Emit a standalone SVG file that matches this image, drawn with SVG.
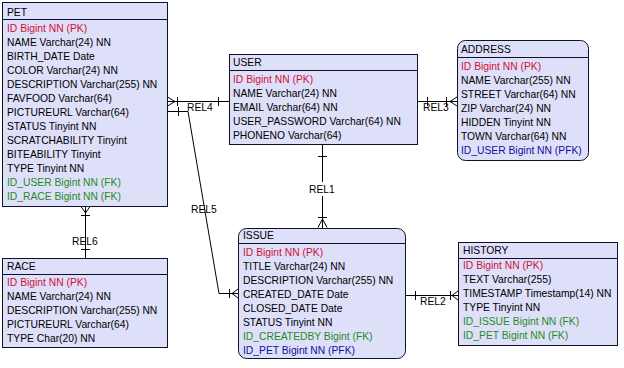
<svg xmlns="http://www.w3.org/2000/svg" width="624" height="368" viewBox="0 0 624 368">
<style>
  text { font-family: "Liberation Sans", Arial, sans-serif; font-size: 10.3px; fill: #000; }
  .box { fill: #DEDFF8; stroke: #10102A; stroke-width: 1; }
  .sep { stroke: #10102A; stroke-width: 1; }
  .pk { fill: #D0103A; }
  .fk { fill: #1E8C1E; }
  .pfk { fill: #1010A0; }
  .ln { stroke: #000; stroke-width: 1; fill: none; }
</style>
<rect x="0" y="0" width="624" height="368" fill="#ffffff"/>

<g id="connectors">
  <g id="rel4">
    <line class="ln" x1="167" y1="101.5" x2="229" y2="101.5"/>
    <polyline class="ln" points="167.5,97 175,101.5 167.5,106"/>
    <line class="ln" x1="177.5" y1="97" x2="177.5" y2="106"/>
    <line class="ln" x1="218.5" y1="97" x2="218.5" y2="106"/>
    <text x="187" y="111">REL4</text>
  </g>
  <g id="rel5">
    <polyline class="ln" points="167,111.5 188,111.5 219,293.5 238,293.5"/>
    <line class="ln" x1="178.5" y1="107" x2="178.5" y2="116"/>
    <line class="ln" x1="229.5" y1="289" x2="229.5" y2="298"/>
    <polyline class="ln" points="238,289 232,293.5 238,298"/>
    <text x="191" y="213">REL5</text>
  </g>
  <g id="rel6">
    <line class="ln" x1="85.5" y1="206" x2="85.5" y2="258"/>
    <polyline class="ln" points="81,206.5 85.5,213 90,206.5"/>
    <line class="ln" x1="81" y1="215.5" x2="90" y2="215.5"/>
    <line class="ln" x1="81" y1="249.5" x2="90" y2="249.5"/>
    <text x="72" y="245">REL6</text>
  </g>
  <g id="rel1">
    <line class="ln" x1="322.5" y1="144" x2="322.5" y2="182"/>
    <line class="ln" x1="322.5" y1="196" x2="322.5" y2="228"/>
    <line class="ln" x1="318" y1="156.5" x2="327" y2="156.5"/>
    <line class="ln" x1="318" y1="217.5" x2="327" y2="217.5"/>
    <polyline class="ln" points="318,227.5 322.5,219 327,227.5"/>
    <text x="309" y="193">REL1</text>
  </g>
  <g id="rel3">
    <line class="ln" x1="417" y1="101.5" x2="457" y2="101.5"/>
    <line class="ln" x1="427.5" y1="97" x2="427.5" y2="106"/>
    <line class="ln" x1="446.5" y1="97" x2="446.5" y2="106"/>
    <polyline class="ln" points="457,97 450,101.5 457,106"/>
    <text x="423" y="111">REL3</text>
  </g>
  <g id="rel2">
    <line class="ln" x1="405" y1="295.5" x2="458" y2="295.5"/>
    <line class="ln" x1="415.5" y1="291" x2="415.5" y2="300"/>
    <line class="ln" x1="450.5" y1="291" x2="450.5" y2="300"/>
    <polyline class="ln" points="458,291 452,295.5 458,300"/>
    <text x="420" y="305">REL2</text>
  </g>
</g>

<g id="PET">
  <rect class="box" x="2.5" y="2.5" width="165" height="204"/>
  <line class="sep" x1="2.5" y1="19.5" x2="167.5" y2="19.5"/>
  <text x="7" y="16">PET</text>
  <text x="7" y="32" class="pk">ID Bigint NN (PK)</text>
  <text x="7" y="46">NAME Varchar(24) NN</text>
  <text x="7" y="60">BIRTH_DATE Date</text>
  <text x="7" y="74">COLOR Varchar(24) NN</text>
  <text x="7" y="88">DESCRIPTION Varchar(255) NN</text>
  <text x="7" y="102">FAVFOOD Varchar(64)</text>
  <text x="7" y="116">PICTUREURL Varchar(64)</text>
  <text x="7" y="130">STATUS Tinyint NN</text>
  <text x="7" y="144">SCRATCHABILITY Tinyint</text>
  <text x="7" y="158">BITEABILITY Tinyint</text>
  <text x="7" y="172">TYPE Tinyint NN</text>
  <text x="7" y="186" class="fk">ID_USER Bigint NN (FK)</text>
  <text x="7" y="200" class="fk">ID_RACE Bigint NN (FK)</text>
</g>

<g id="USER">
  <rect class="box" x="229.5" y="54.5" width="188" height="90"/>
  <line class="sep" x1="229.5" y1="70.5" x2="417.5" y2="70.5"/>
  <text x="233" y="66">USER</text>
  <text x="233" y="83" class="pk">ID Bigint NN (PK)</text>
  <text x="233" y="97">NAME Varchar(24) NN</text>
  <text x="233" y="111">EMAIL Varchar(64) NN</text>
  <text x="233" y="125">USER_PASSWORD Varchar(64) NN</text>
  <text x="233" y="139">PHONENO Varchar(64)</text>
</g>

<g id="ADDRESS">
  <rect class="box" x="457.5" y="40.5" width="131" height="120" rx="8" ry="8"/>
  <line class="sep" x1="457.5" y1="57.5" x2="588.5" y2="57.5"/>
  <text x="461" y="53">ADDRESS</text>
  <text x="461" y="70" class="pk">ID Bigint NN (PK)</text>
  <text x="461" y="84">NAME Varchar(255) NN</text>
  <text x="461" y="98">STREET Varchar(64) NN</text>
  <text x="461" y="112">ZIP Varchar(24) NN</text>
  <text x="461" y="126">HIDDEN Tinyint NN</text>
  <text x="461" y="140">TOWN Varchar(64) NN</text>
  <text x="461" y="154" class="pfk">ID_USER Bigint NN (PFK)</text>
</g>

<g id="RACE">
  <rect class="box" x="2.5" y="258.5" width="165" height="89"/>
  <line class="sep" x1="2.5" y1="274.5" x2="167.5" y2="274.5"/>
  <text x="7" y="270">RACE</text>
  <text x="7" y="286" class="pk">ID Bigint NN (PK)</text>
  <text x="7" y="300">NAME Varchar(24) NN</text>
  <text x="7" y="314">DESCRIPTION Varchar(255) NN</text>
  <text x="7" y="328">PICTUREURL Varchar(64)</text>
  <text x="7" y="342">TYPE Char(20) NN</text>
</g>

<g id="ISSUE">
  <rect class="box" x="238.5" y="228.5" width="167" height="130" rx="8" ry="8"/>
  <line class="sep" x1="238.5" y1="243.5" x2="405.5" y2="243.5"/>
  <text x="243" y="239">ISSUE</text>
  <text x="243" y="256" class="pk">ID Bigint NN (PK)</text>
  <text x="243" y="270">TITLE Varchar(24) NN</text>
  <text x="243" y="284">DESCRIPTION Varchar(255) NN</text>
  <text x="243" y="298">CREATED_DATE Date</text>
  <text x="243" y="312">CLOSED_DATE Date</text>
  <text x="243" y="326">STATUS Tinyint NN</text>
  <text x="243" y="340" class="fk">ID_CREATEDBY Bigint  (FK)</text>
  <text x="243" y="354" class="pfk">ID_PET Bigint NN (PFK)</text>
</g>

<g id="HISTORY">
  <rect class="box" x="458.5" y="242.5" width="159" height="103"/>
  <line class="sep" x1="458.5" y1="258.5" x2="617.5" y2="258.5"/>
  <text x="463" y="254">HISTORY</text>
  <text x="463" y="269" class="pk">ID Bigint NN (PK)</text>
  <text x="463" y="283">TEXT Varchar(255)</text>
  <text x="463" y="297">TIMESTAMP Timestamp(14) NN</text>
  <text x="463" y="311">TYPE Tinyint NN</text>
  <text x="463" y="325" class="fk">ID_ISSUE Bigint NN (FK)</text>
  <text x="463" y="339" class="fk">ID_PET Bigint NN (FK)</text>
</g>
</svg>
